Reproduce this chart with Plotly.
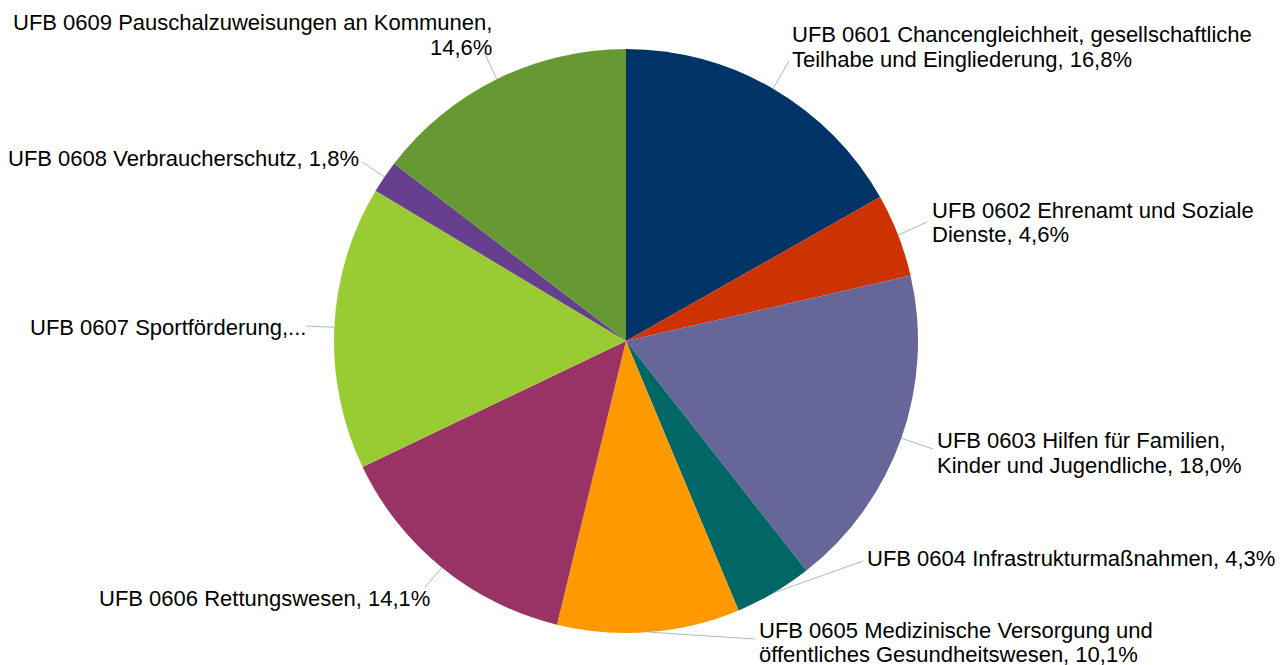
import math
import plotly.graph_objects as go

# ---- data ----
codes = ["UFB 0601", "UFB 0602", "UFB 0603", "UFB 0604", "UFB 0605",
         "UFB 0606", "UFB 0607", "UFB 0608", "UFB 0609"]
names = ["Chancengleichheit, gesellschaftliche Teilhabe und Eingliederung",
         "Ehrenamt und Soziale Dienste",
         "Hilfen für Familien, Kinder und Jugendliche",
         "Infrastrukturmaßnahmen",
         "Medizinische Versorgung und öffentliches Gesundheitswesen",
         "Rettungswesen",
         "Sportförderung, Ehrenamt und Bürgerengagement",
         "Verbraucherschutz",
         "Pauschalzuweisungen an Kommunen"]
shares = [16.8, 4.6, 18.0, 4.3, 10.1, 14.1, 15.7, 1.8, 14.6]
colors = ["#003366", "#CC3300", "#666699", "#006666", "#FF9900",
          "#993366", "#99CC33", "#663F8E", "#669933"]

# label text lines as shown in the chart
label_lines = [
    ["UFB 0601 Chancengleichheit, gesellschaftliche", "Teilhabe und Eingliederung, 16,8%"],
    ["UFB 0602 Ehrenamt und Soziale", "Dienste, 4,6%"],
    ["UFB 0603 Hilfen für Familien,", "Kinder und Jugendliche, 18,0%"],
    ["UFB 0604 Infrastrukturmaßnahmen, 4,3%"],
    ["UFB 0605 Medizinische Versorgung und", "öffentliches Gesundheitswesen, 10,1%"],
    ["UFB 0606 Rettungswesen, 14,1%"],
    ["UFB 0607 Sportförderung,..."],
    ["UFB 0608 Verbraucherschutz, 1,8%"],
    ["UFB 0609 Pauschalzuweisungen an Kommunen,", "14,6%"],
]

# ---- layout (pixels, top-left origin) ----
W, H = 1288, 665
CX, CY, R = 626, 341, 292
FONT = dict(family="Liberation Sans, Arial, sans-serif", size=22, color="#000000")
LINE_H = 24
# (x anchor, first line center y, xanchor)
label_pos = [
    (790, 35, "left"),
    (930, 211, "left"),
    (935, 441, "left"),
    (865, 558, "left"),
    (757, 630, "left"),
    (432, 598, "right"),
    (308, 327, "right"),
    (361, 158, "right"),
    (494, 23, "right"),
]
# leader line end (near label)
leader_end = [
    (789, 61), (927, 222), (933, 449), (863, 561), (755, 639),
    (425, 587), (306, 326), (362, 162), (484, 52),
]


def px(x):
    return x / W


def py(y):
    return 1 - y / H


fig = go.Figure()
fig.add_trace(go.Pie(
    labels=[c + " " + n for c, n in zip(codes, names)],
    values=shares,
    sort=False,
    direction="clockwise",
    rotation=0,
    marker=dict(colors=colors, line=dict(width=0)),
    textinfo="none",
    hoverinfo="label+percent",
    showlegend=False,
    domain=dict(x=[px(CX - R), px(CX + R)], y=[py(CY + R), py(CY - R)]),
))

total = sum(shares)
cum = 0.0
shapes = []
annotations = []
for i, v in enumerate(shares):
    mid = (cum + v / 2) / total
    cum += v
    ang = 2 * math.pi * mid
    ex = CX + R * math.sin(ang)
    ey = CY - R * math.cos(ang)
    lx, ly = leader_end[i]
    shapes.append(dict(type="line", xref="paper", yref="paper",
                       x0=px(ex), y0=py(ey), x1=px(lx), y1=py(ly),
                       line=dict(color="#A6B9D2", width=1)))
    x0, y0, anchor = label_pos[i]
    for k, line in enumerate(label_lines[i]):
        annotations.append(dict(
            xref="paper", yref="paper", x=px(x0), y=py(y0 + k * LINE_H),
            xanchor=anchor, yanchor="middle", text=line, showarrow=False,
            font=FONT, align=anchor))

fig.update_layout(
    width=W, height=H,
    margin=dict(l=0, r=0, t=0, b=0),
    paper_bgcolor="white", plot_bgcolor="white",
    shapes=shapes, annotations=annotations,
)

fig.write_html("out.html",
               config={"displayModeBar": False},
               post_script="document.body.style.margin='0';document.body.style.overflow='hidden';")
